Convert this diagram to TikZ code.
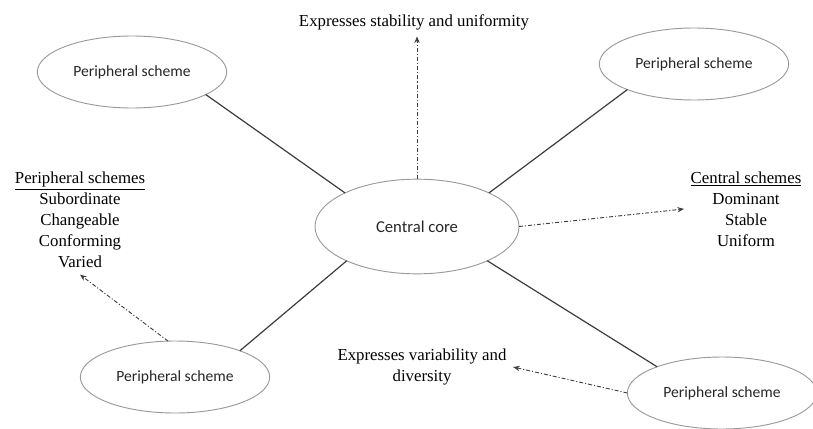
\documentclass[tikz,border=0pt]{standalone}
\usepackage{fontspec}
\setmainfont{Liberation Serif}
\newfontfamily\calibfont{Carlito}
\usetikzlibrary{arrows.meta,shapes.geometric}

\begin{document}
\begin{tikzpicture}[
  x=0.75pt, y=-0.75pt,
  every node/.style={inner sep=0pt, outer sep=0pt},
  scheme/.style={ellipse, draw=EllBorder, line width=0.7pt, minimum width=142pt, minimum height=54pt,
    font=\calibfont\fontsize{11.7}{14}\selectfont, text=black!85},
  link/.style={draw=LinkGray, line width=0.9pt},
  flow/.style={draw=black!75, line width=0.7pt, dash pattern=on 3pt off 1.5pt on 0.8pt off 1.5pt,
    -{Stealth[length=5pt, width=4pt]}},
  note/.style={align=center, inner sep=5pt, font=\fontsize{12.6}{15.75}\selectfont, text=black},
]

% ── colors ──
\definecolor{EllBorder}{HTML}{9A9A9A}
\definecolor{LinkGray}{HTML}{3C3C3C}

\useasboundingbox (0,0) rectangle (813,428);

% ── schemes ──
\node[scheme, minimum width=153pt, minimum height=71pt, font=\calibfont\fontsize{12.5}{15}\selectfont] (core) at (417,226.5) {Central core};
\node[scheme] (tl) at (132,72) {Peripheral scheme};
\node[scheme] (tr) at (694,64) {Peripheral scheme};
\node[scheme] (bl) at (175,377) {Peripheral scheme};
\node[scheme] (br) at (722,393) {Peripheral scheme};

% ── notes ──
\node[note] (stab) at (414,22) {Expresses stability and uniformity};
\node[note] (var) at (422,367) {Expresses variability and\\diversity};
\node[note] (ps) at (80,220) {\underline{Peripheral schemes}\\Subordinate\\Changeable\\Conforming\\Varied};
\node[note] (cs) at (746,209) {\underline{Central schemes}\\Dominant\\Stable\\Uniform};

% ── links ──
\draw[link] (tl.343) -- (core.155);
\draw[link] (tr.201) -- (core.25);
\draw[link] (bl.22) -- (core.206);
\draw[link] (br.158) -- (core.334);

% ── flows ──
\draw[flow] (core.north) -- (core.north |- stab.south);
\draw[flow] (core.east) -- (cs.west);
\draw[flow] (bl.101) -- (ps.south);
\draw[flow] (br.west) -- (var.east);

\end{tikzpicture}
\end{document}
